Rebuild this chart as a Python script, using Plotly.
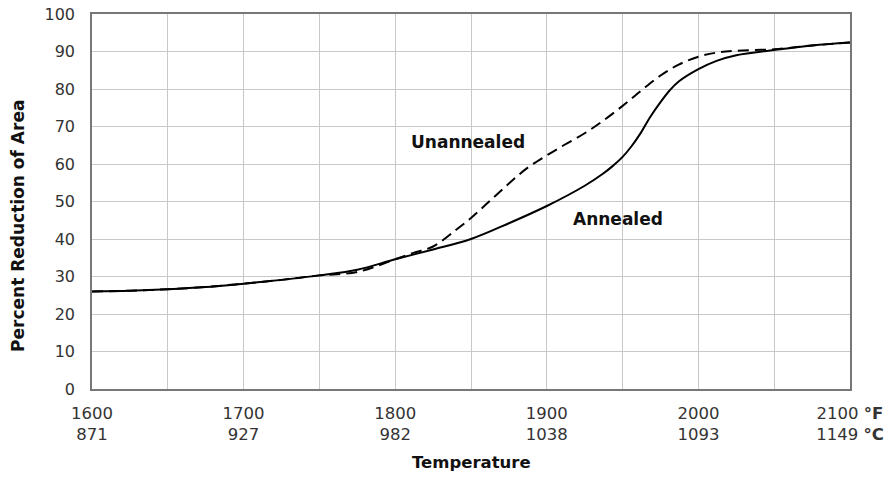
import plotly.graph_objects as go

# Temperature (°F) and percent reduction of area
annealed_temp = [1600, 1625, 1650, 1675, 1700, 1725, 1750, 1775, 1800, 1825, 1850, 1875,
                 1900, 1925, 1937, 1943, 1950, 1956, 1962, 1968, 1975, 1981, 1987, 2000,
                 2012, 2025, 2050, 2075, 2100]
annealed_ra = [26.0, 26.2, 26.6, 27.2, 28.1, 29.1, 30.3, 31.8, 34.6, 37.2, 40.0, 44.2,
               48.8, 54.2, 57.4, 59.3, 61.9, 64.8, 68.3, 72.4, 76.5, 79.6, 82.0, 85.3,
               87.5, 89.0, 90.4, 91.6, 92.4]

unannealed_temp = [1600, 1625, 1650, 1675, 1700, 1725, 1750, 1775, 1800, 1812, 1825, 1840,
                   1850, 1862, 1875, 1887, 1900, 1912, 1925, 1937, 1950, 1962, 1975, 1987,
                   2000, 2012, 2025, 2050, 2075, 2100]
unannealed_ra = [26.0, 26.2, 26.6, 27.2, 28.1, 29.1, 30.3, 31.2, 34.6, 36.3, 38.0, 42.4,
                 45.6, 50.0, 54.8, 58.9, 62.3, 65.2, 68.2, 71.5, 75.5, 79.5, 83.6, 86.5,
                 88.6, 89.7, 90.2, 90.6, 91.6, 92.4]

tick_f = [1600, 1650, 1700, 1750, 1800, 1850, 1900, 1950, 2000, 2050, 2100]
tick_text = ["1600<br>871", "", "1700<br>927", "", "1800<br>982", "", "1900<br>1038", "",
             "2000<br>1093", "", "2100 <b>°F</b><br>1149 <b>°C</b>"]
y_ticks = [0, 10, 20, 30, 40, 50, 60, 70, 80, 90, 100]

labels = ["Unannealed", "Annealed"]
label_x = [1848, 1947]
label_y = [66, 45.3]

FONT = "DejaVu Sans, Verdana, sans-serif"

fig = go.Figure()
fig.add_trace(go.Scatter(x=annealed_temp, y=annealed_ra, mode="lines",
                         line=dict(color="black", width=2, shape="spline", smoothing=1.0),
                         name="Annealed", showlegend=False, hoverinfo="x+y"))
fig.add_trace(go.Scatter(x=unannealed_temp, y=unannealed_ra, mode="lines",
                         line=dict(color="black", width=2, dash="11px,6px", shape="spline", smoothing=1.0),
                         name="Unannealed", showlegend=False, hoverinfo="x+y"))

for t, xx, yy in zip(labels, label_x, label_y):
    fig.add_annotation(x=xx, y=yy, text="<b>" + t + "</b>", showarrow=False,
                       font=dict(family=FONT, size=17, color="#111"))

# axis titles
fig.add_annotation(xref="paper", yref="paper", x=0.5, y=-0.197, yanchor="middle",
                   text="<b>Temperature</b>", showarrow=False,
                   font=dict(family=FONT, size=16.5, color="#111"))
fig.add_annotation(xref="paper", yref="paper", x=-0.0976, y=0.435, xanchor="center",
                   yanchor="middle", textangle=-90,
                   text="<b>Percent Reduction of Area</b>", showarrow=False,
                   font=dict(family=FONT, size=17, color="#111"))

fig.update_layout(
    width=891, height=477,
    margin=dict(l=92, r=41, t=14, b=88),
    paper_bgcolor="white", plot_bgcolor="white",
    font=dict(family=FONT, size=16, color="#333"),
)
fig.update_xaxes(
    range=[1600, 2100], tickmode="array", tickvals=tick_f, ticktext=tick_text,
    showgrid=True, gridcolor="#c8c8c8", gridwidth=1,
    showline=True, linecolor="#777", linewidth=1.5, mirror=True,
    ticks="", zeroline=False, automargin=False, ticklabelstandoff=8,
    tickfont=dict(family=FONT, size=16.5, color="#333"),
)
fig.update_yaxes(
    range=[0, 100], tickmode="array", tickvals=y_ticks,
    showgrid=True, gridcolor="#c8c8c8", gridwidth=1,
    showline=True, linecolor="#777", linewidth=1.5, mirror=True,
    ticks="", zeroline=False, automargin=False, ticklabelstandoff=12,
    tickfont=dict(family=FONT, size=16, color="#333"),
)

fig.write_html("out.html",
               config={"displayModeBar": False},
               post_script="document.body.style.margin='0';document.body.style.overflow='hidden';")
